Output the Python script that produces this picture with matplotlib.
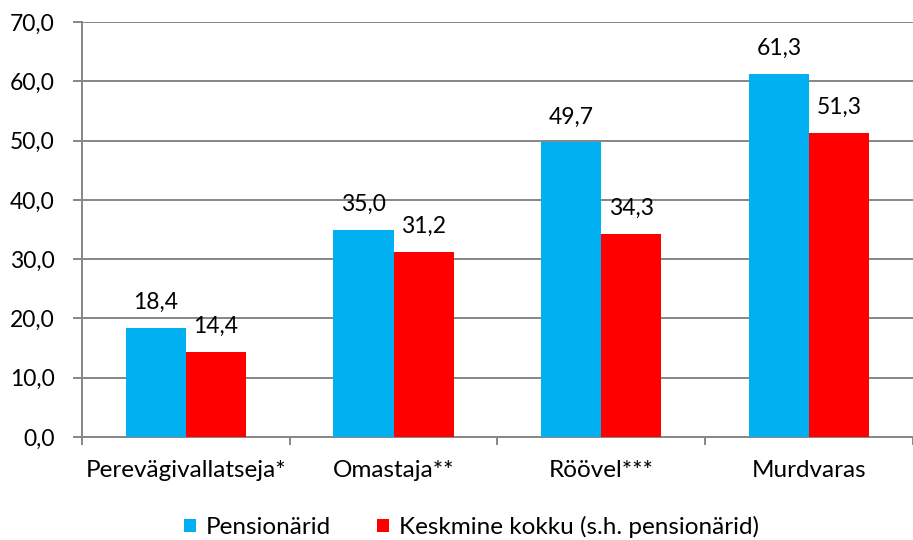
import numpy as np
import matplotlib.pyplot as plt

categories = ['Perevägivallatseja*', 'Omastaja**', 'Röövel***', 'Murdvaras']
pensionarid = [18.4, 35.0, 49.7, 61.3]
keskmine = [14.4, 31.2, 34.3, 51.3]
series_names = ['Pensionärid', 'Keskmine kokku (s.h. pensionärid)']

plt.rcParams['font.family'] = ['Lato', 'DejaVu Sans']

fig = plt.figure(figsize=(9.13, 5.4), dpi=100)
ax = fig.add_axes([0.0898, 0.191, 0.91, 0.768])

x = np.arange(len(categories))
w = 0.29
b1 = ax.bar(x - w / 2, pensionarid, w, color='#00B0F0', label=series_names[0], zorder=3)
b2 = ax.bar(x + w / 2, keskmine, w, color='#FF0000', label=series_names[1], zorder=3)

fmt = lambda v: f'{v:.1f}'.replace('.', ',')
for bars, vals in [(b1, pensionarid), (b2, keskmine)]:
    for rect, v in zip(bars, vals):
        ax.annotate(fmt(v), (rect.get_x() + rect.get_width() / 2, v),
                    xytext=(0, 13.5), textcoords='offset points',
                    ha='center', va='baseline', fontsize=16.5)

ax.set_xlim(-0.5, len(categories) - 0.5)
ax.set_ylim(0, 70)
ax.set_yticks(np.arange(0, 71, 10))
ax.set_yticklabels([fmt(v) for v in np.arange(0, 71, 10)])
ax.yaxis.grid(True, color='#868686', linewidth=1.4, zorder=0)

ax.set_xticks(np.arange(-0.5, len(categories), 1.0))
ax.set_xticklabels([])
ax.set_xticks(x, minor=True)
ax.set_xticklabels(categories, minor=True)
ax.tick_params(axis='x', which='minor', length=0, pad=17, labelsize=17.5)
ax.tick_params(axis='x', which='major', length=6, color='#868686', width=1.4)
ax.tick_params(axis='y', length=6.5, color='#868686', width=1.4, labelsize=16.5, pad=13)

for s in ['top', 'right']:
    ax.spines[s].set_visible(False)
for s in ['left', 'bottom']:
    ax.spines[s].set_color('#868686')
    ax.spines[s].set_linewidth(1.4)

fig.legend(loc='center', bbox_to_anchor=(0.516, 0.024), ncol=2, frameon=False,
           fontsize=17.5, handlelength=0.5, handleheight=0.5, handletextpad=0.4,
           columnspacing=1.9)

plt.savefig('out.png', dpi=100)
